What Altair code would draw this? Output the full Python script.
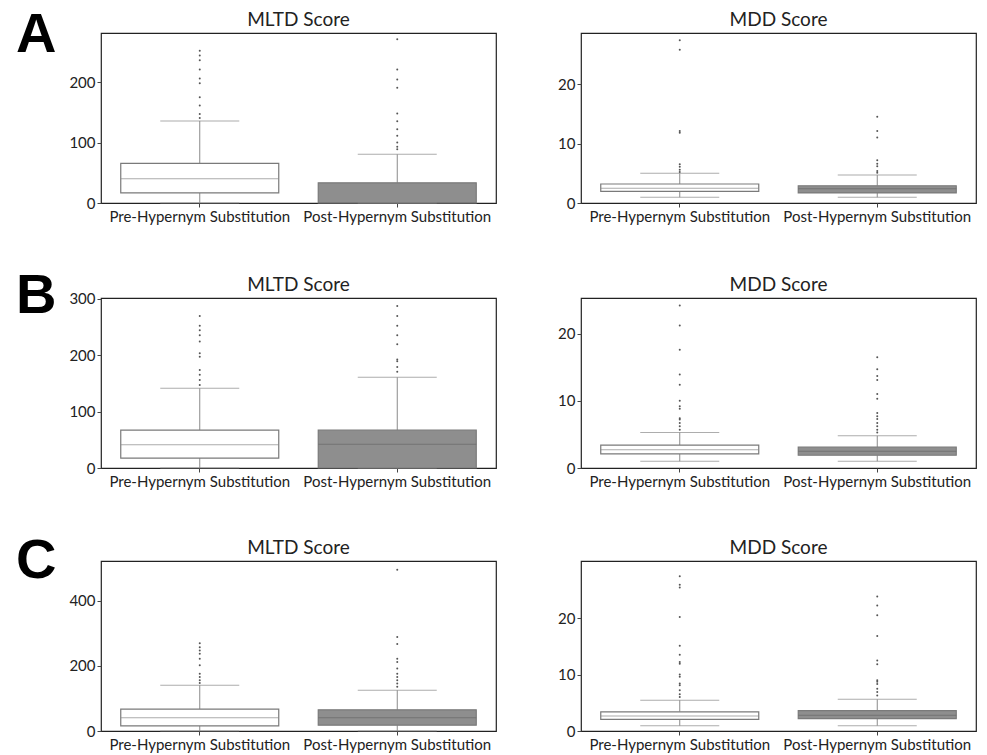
import altair as alt
import pandas as pd

categories = ["Pre-Hypernym Substitution", "Post-Hypernym Substitution"]
fills = ["#ffffff", "#8e8e8e"]
median_colors = ["#888888", "#666666"]

# ---- Row A ----
A_mltd_q1 = [16.7, 0.0]
A_mltd_med = [40.0, 0.0]
A_mltd_q3 = [65.6, 33.3]
A_mltd_lo = [0.0, 0.0]
A_mltd_hi = [135.6, 80.5]
A_mltd_out_pre = [251.7, 244, 236, 220.6, 205.6, 198, 175, 161, 147, 140.6]
A_mltd_out_post = [270.5, 220.5, 204, 190.5, 148, 135, 122, 111, 100, 93, 89]

A_mdd_q1 = [1.97, 1.7]
A_mdd_med = [2.5, 2.4]
A_mdd_q3 = [3.2, 2.9]
A_mdd_lo = [0.96, 0.96]
A_mdd_hi = [5.0, 4.7]
A_mdd_out_pre = [27.4, 25.8, 12.1, 11.8, 6.5, 6.1, 5.6, 5.2]
A_mdd_out_post = [14.5, 12.1, 11.0, 7.2, 6.6, 6.2, 5.4, 5.1]

# ---- Row B ----
B_mltd_q1 = [17.6, 0.0]
B_mltd_med = [41.0, 42.0]
B_mltd_q3 = [67.0, 67.0]
B_mltd_lo = [0.0, 0.0]
B_mltd_hi = [141.0, 160.6]
B_mltd_out_pre = [269, 252, 244, 235, 224, 203, 197, 173.5, 165, 156, 147]
B_mltd_out_post = [287, 269, 252, 235, 219, 192, 189, 179, 170.6]

B_mdd_q1 = [2.1, 1.9]
B_mdd_med = [2.7, 2.5]
B_mdd_q3 = [3.4, 3.1]
B_mdd_lo = [1.0, 1.0]
B_mdd_hi = [5.3, 4.8]
B_mdd_out_pre = [24.2, 21.2, 17.6, 13.9, 12.4, 10.0, 9.2, 8.8, 7.4, 7.2, 6.7, 6.2, 5.7]
B_mdd_out_post = [16.5, 14.7, 13.7, 13.1, 11.0, 10.3, 8.2, 7.7, 7.3, 6.7, 6.2, 5.7, 5.3]

# ---- Row C ----
C_mltd_q1 = [16.0, 18.0]
C_mltd_med = [41.0, 41.0]
C_mltd_q3 = [67.0, 65.0]
C_mltd_lo = [0.0, 0.0]
C_mltd_hi = [141.0, 125.5]
C_mltd_out_pre = [270, 258, 248, 238, 222, 202, 176.5, 166, 156, 148]
C_mltd_out_post = [496, 289, 268, 222, 212, 192, 176.5, 166, 156, 146, 136]

C_mdd_q1 = [2.05, 2.2]
C_mdd_med = [2.64, 2.8]
C_mdd_q3 = [3.4, 3.6]
C_mdd_lo = [0.94, 0.94]
C_mdd_hi = [5.45, 5.6]
C_mdd_out_pre = [27.4, 25.9, 25.4, 20.2, 15.1, 13.5, 12.2, 11.9, 10.0, 9.6, 8.4, 8.1, 7.2, 6.5, 6.0]
C_mdd_out_post = [23.8, 22.2, 20.5, 16.8, 12.5, 11.8, 9.0, 8.7, 8.3, 7.5, 6.9, 6.3]

FONT = "Lato"
W, H = 395, 170
STEP = W / 2.0
LINE = "#8a8a8a"
BOXLINE = "#7a7a7a"


def panel(title, q1, med, q3, lo, hi, out_pre, out_post, ymax, ticks, letter=None, letter_y=0):
    stats = pd.DataFrame({"cat": categories, "q1": q1, "med": med, "q3": q3,
                          "lo": lo, "hi": hi, "fill": fills, "mc": median_colors})
    outl = pd.DataFrame({"cat": [categories[0]] * len(out_pre) + [categories[1]] * len(out_post),
                         "v": list(out_pre) + list(out_post)})
    xenc = alt.X("cat:N", sort=categories, title=None,
                 scale=alt.Scale(paddingInner=0.2, paddingOuter=0.1),
                 axis=alt.Axis(labelAngle=0, labelFont=FONT, labelFontSize=15,
                               labelColor="#222", domain=False, tickColor="#444",
                               tickSize=4, labelPadding=2, labelLimit=400))
    yscale = alt.Scale(domain=[0, ymax], nice=False, zero=True)
    yaxis = alt.Axis(values=ticks, grid=False, domain=False, labelFont=FONT,
                     labelFontSize=15, labelColor="#222", tickColor="#444",
                     tickSize=4, labelPadding=2)
    base = alt.Chart(stats)
    w_up = base.mark_rule(color=LINE, strokeWidth=1).encode(
        x=xenc, y=alt.Y("q3:Q", scale=yscale, axis=yaxis, title=None), y2="hi:Q")
    w_dn = base.mark_rule(color=LINE, strokeWidth=1).encode(
        x=xenc, y=alt.Y("lo:Q", scale=yscale), y2="q1:Q")
    box = base.mark_bar(stroke=BOXLINE, strokeWidth=1.2).encode(
        x=xenc, y=alt.Y("q1:Q", scale=yscale), y2="q3:Q",
        fill=alt.Fill("fill:N", scale=None))
    med_t = base.mark_tick(thickness=1, size=STEP * 0.8).encode(
        x=xenc, y=alt.Y("med:Q", scale=yscale), color=alt.Color("mc:N", scale=None))
    cap_hi = base.mark_tick(color=LINE, thickness=1, size=STEP * 0.4).encode(
        x=xenc, y=alt.Y("hi:Q", scale=yscale))
    cap_lo = base.mark_tick(color=LINE, thickness=1, size=STEP * 0.4).encode(
        x=xenc, y=alt.Y("lo:Q", scale=yscale))
    pts = alt.Chart(outl).mark_circle(size=4, color="#555", opacity=1).encode(
        x=xenc, y=alt.Y("v:Q", scale=yscale))
    ttl = alt.Chart(pd.DataFrame({"t": [title]})).mark_text(
        font=FONT, fontSize=19, color="#222", align="center",
        baseline="alphabetic").encode(
        text="t:N", x=alt.value(W / 2), y=alt.value(-7))
    layers = [w_up, w_dn, box, med_t, cap_hi, cap_lo, pts, ttl]
    if letter:
        lt = alt.Chart(pd.DataFrame({"t": [letter]})).mark_text(
            font="Liberation Sans", fontSize=56, fontWeight="bold", color="#000",
            align="left", baseline="alphabetic").encode(
            text="t:N", x=alt.value(-85), y=alt.value(letter_y))
        layers.append(lt)
    return alt.layer(*layers).properties(width=W, height=H)


rowA = alt.hconcat(
    panel("MLTD Score", A_mltd_q1, A_mltd_med, A_mltd_q3, A_mltd_lo, A_mltd_hi,
          A_mltd_out_pre, A_mltd_out_post, 281, [0, 100, 200], "A", 19),
    panel("MDD Score", A_mdd_q1, A_mdd_med, A_mdd_q3, A_mdd_lo, A_mdd_hi,
          A_mdd_out_pre, A_mdd_out_post, 28.6, [0, 10, 20]),
    spacing=60)
rowB = alt.hconcat(
    panel("MLTD Score", B_mltd_q1, B_mltd_med, B_mltd_q3, B_mltd_lo, B_mltd_hi,
          B_mltd_out_pre, B_mltd_out_post, 301, [0, 100, 200, 300], "B", 15),
    panel("MDD Score", B_mdd_q1, B_mdd_med, B_mdd_q3, B_mdd_lo, B_mdd_hi,
          B_mdd_out_pre, B_mdd_out_post, 25.3, [0, 10, 20]),
    spacing=60)
rowC = alt.hconcat(
    panel("MLTD Score", C_mltd_q1, C_mltd_med, C_mltd_q3, C_mltd_lo, C_mltd_hi,
          C_mltd_out_pre, C_mltd_out_post, 523, [0, 200, 400], "C", 17),
    panel("MDD Score", C_mdd_q1, C_mdd_med, C_mdd_q3, C_mdd_lo, C_mdd_hi,
          C_mdd_out_pre, C_mdd_out_post, 30.1, [0, 10, 20]),
    spacing=60)

chart = alt.vconcat(rowA, rowB, rowC, spacing=42).properties(
    padding={"left": 15, "top": 6, "right": 5, "bottom": 5},
    background="white"
).configure_view(stroke="#222", strokeWidth=1.2)

chart.save("out.html", embed_options={"renderer": "svg", "actions": False})
